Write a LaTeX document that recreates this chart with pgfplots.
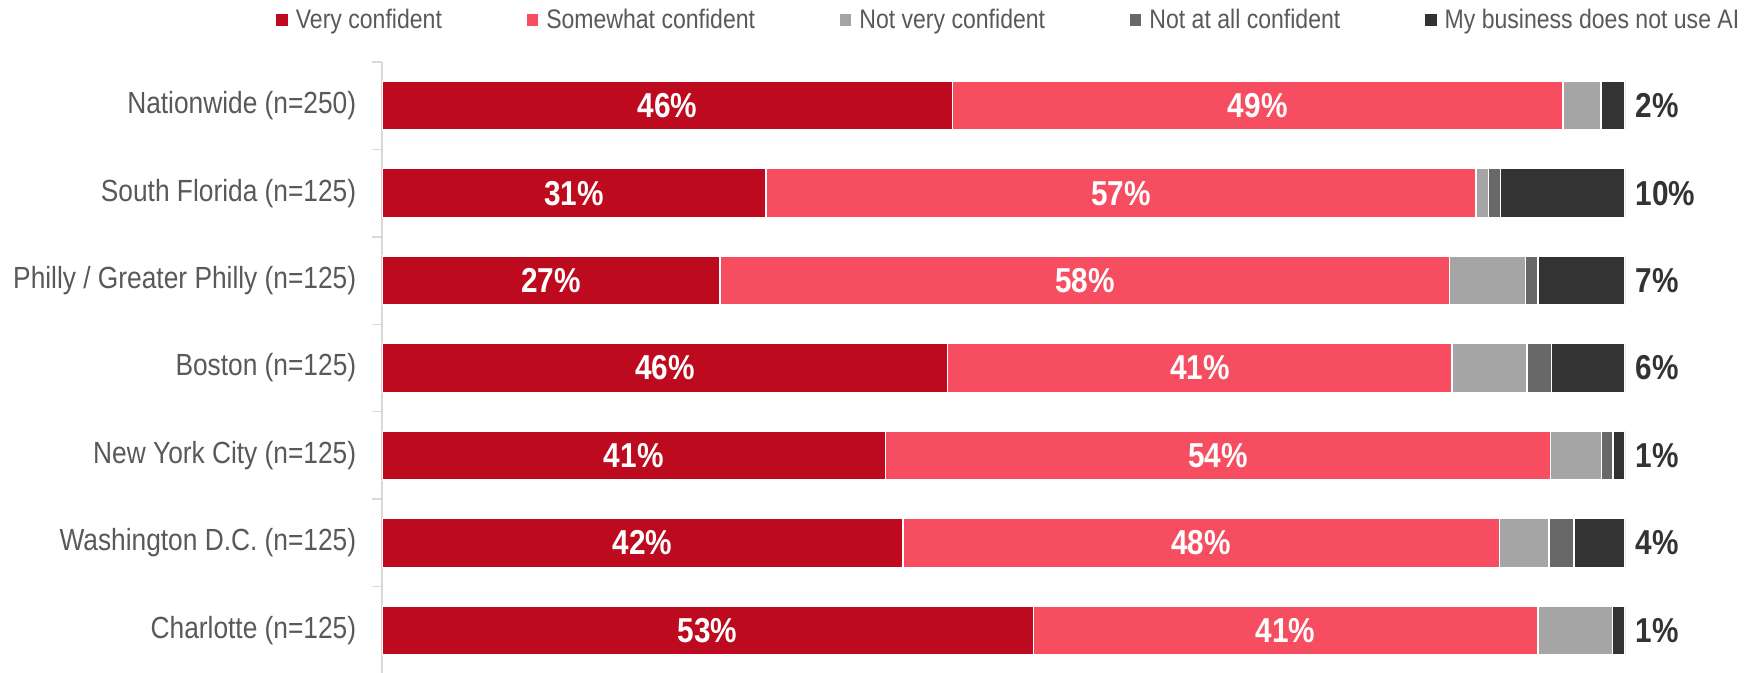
\documentclass[border=0pt]{standalone}
\usepackage{pgfplots}
\pgfplotsset{compat=1.18}
\usepackage{pgfplotstable}
\usepackage{fontspec}
\setmainfont{Liberation Sans}[FakeStretch=0.86]

\definecolor{cVery}{HTML}{BE0A1E}
\definecolor{cSome}{HTML}{F64D61}
\definecolor{cNotVery}{HTML}{A5A5A5}
\definecolor{cNotAll}{HTML}{686868}
\definecolor{cNoAI}{HTML}{333333}
\definecolor{cText}{HTML}{595959}
\definecolor{cAxis}{HTML}{D9D9D9}

\pgfplotstableread{
pos very vlab some slab notvery notall noai nlab
6 45.9 46 49.1 49 3.05 0.0 1.95 2
5 30.9 31 57.1 57 1.0 1.0 10.0 10
4 27.2 27 58.7 58 6.1 1.0 7.0 7
3 45.5 46 40.6 41 6.0 2.0 5.9 6
2 40.5 41 53.5 54 4.1 0.95 0.95 1
1 41.9 42 48.0 48 4.0 2.0 4.1 4
0 52.4 53 40.6 41 6.0 0.0 1.0 1
}\data

\begin{document}
\begin{tikzpicture}
\useasboundingbox (-191bp,0.5bp) rectangle (682.5bp,337bp);
\begin{axis}[
  scale only axis,
  width=621.5bp, height=306bp,
  xbar stacked, bar width=24.5bp,
  xmin=0, xmax=100, ymin=-0.5, ymax=6.5,
  axis x line=none,
  axis y line*=left,
  y axis line style={draw=cAxis, line width=0.75bp},
  ytick={0,...,6},
  yticklabels={Charlotte (n=125), Washington D.C. (n=125), New York City (n=125), Boston (n=125), Philly / Greater Philly (n=125), South Florida (n=125), Nationwide (n=250)},
  major tick length=0pt,
  minor ytick={-0.5,0.5,...,6.5},
  minor tick length=5bp,
  tick align=outside,
  every minor tick/.append style={draw=cAxis, line width=0.75bp},
  yticklabel style={font=\fontsize{15.3bp}{18bp}\selectfont, text=cText, inner sep=0pt, xshift=-12.7bp},
  legend columns=5,
  legend style={at={(0,1)}, anchor=west, xshift=-53bp, yshift=21bp, draw=none, fill=none, inner sep=0pt,
    font=\fontsize{13.4bp}{16bp}\selectfont, text=cText,
    nodes={inner sep=0pt},
    /tikz/every odd column/.append style={column sep=4bp},
    /tikz/every even column/.append style={column sep=42.4bp}},
  legend cell align=left,
  legend image code/.code={\fill[#1, draw=none] (0bp,-2.9bp) rectangle (5.75bp,2.9bp);},
]
\addplot[fill=cVery, draw=white, line width=0.75bp,
  nodes near coords={\pgfplotspointmeta\%}, point meta=explicit symbolic,
  nodes near coords style={anchor=center, inner sep=0pt, text=white, font=\bfseries\fontsize{17.3bp}{20bp}\selectfont}]
  table[x=very, y=pos, meta=vlab] {\data};
\addlegendentry{Very confident}
\addplot[fill=cSome, draw=white, line width=0.75bp,
  nodes near coords={\pgfplotspointmeta\%}, point meta=explicit symbolic,
  nodes near coords style={anchor=center, inner sep=0pt, text=white, font=\bfseries\fontsize{17.3bp}{20bp}\selectfont}]
  table[x=some, y=pos, meta=slab] {\data};
\addlegendentry{Somewhat confident}
\addplot[fill=cNotVery, draw=white, line width=0.75bp]
  table[x=notvery, y=pos] {\data};
\addlegendentry{Not very confident}
\addplot[fill=cNotAll, draw=white, line width=0.75bp]
  table[x=notall, y=pos] {\data};
\addlegendentry{Not at all confident}
\addplot[fill=cNoAI, draw=white, line width=0.75bp,
  nodes near coords={\pgfplotspointmeta\%}, point meta=explicit symbolic,
  visualization depends on={\thisrow{noai} \as \w},
  nodes near coords style={anchor=west, inner sep=0pt, xshift=\w*3.1075bp+5bp, text=cNoAI, font=\bfseries\fontsize{17.3bp}{20bp}\selectfont}]
  table[x=noai, y=pos, meta=nlab] {\data};
\addlegendentry{My business does not use AI}
\end{axis}
\end{tikzpicture}
\end{document}
